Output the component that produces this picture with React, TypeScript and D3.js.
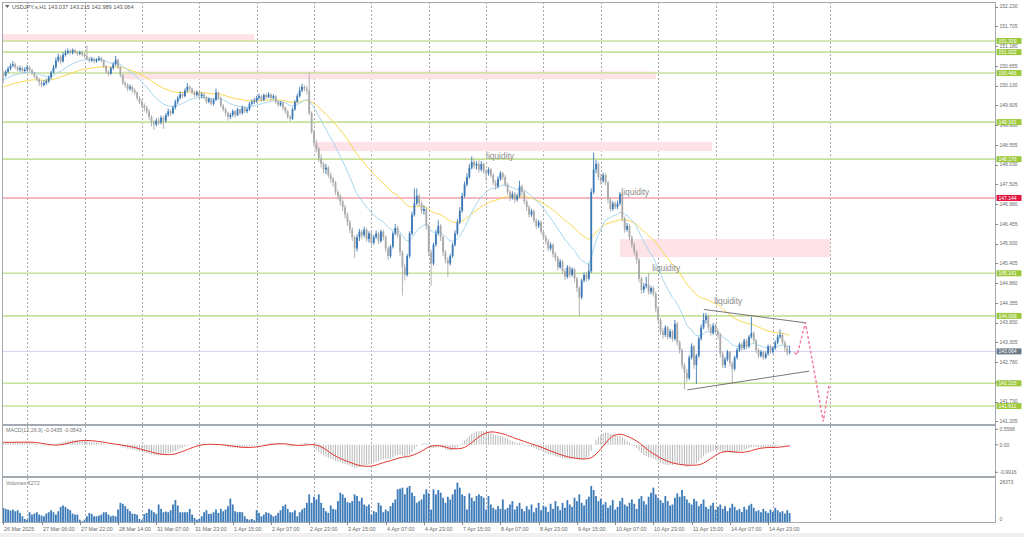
import React from 'react';
import * as d3 from 'd3';

// ---------- DATA ----------
const firstOpen = 150.45;
const closes = [
150.40,150.50,150.58,150.66,150.70,150.62,150.55,150.60,150.52,150.56,
150.62,150.55,150.48,150.38,150.30,150.22,150.15,150.20,150.25,150.35,
150.48,150.62,150.80,150.90,150.78,150.95,151.00,151.05,151.00,151.08,
151.02,150.98,151.02,150.96,150.92,150.85,150.80,150.85,150.78,150.82,
150.86,150.80,150.65,150.50,150.45,150.60,150.70,150.82,150.62,150.40,
150.20,150.15,150.05,150.10,150.00,149.95,149.80,149.70,149.60,149.55,
149.45,149.30,149.15,149.10,149.20,149.15,149.28,149.20,149.35,149.45,
149.40,149.55,149.70,149.80,149.90,149.85,150.00,150.10,150.05,149.95,
149.88,149.95,149.85,149.90,149.82,149.70,149.78,149.65,149.75,149.95,
149.80,149.60,149.50,149.40,149.30,149.35,149.45,149.35,149.50,149.40,
149.55,149.45,149.50,149.65,149.70,149.72,149.80,149.85,149.75,149.88,
149.82,149.90,149.80,149.85,149.70,149.62,149.68,149.55,149.45,149.30,
149.25,149.50,149.70,149.85,150.00,150.10,150.05,150.00,149.40,148.90,
148.60,148.45,148.20,148.05,147.90,147.95,147.75,147.65,147.55,147.30,
147.20,147.05,146.90,146.70,146.50,146.30,146.10,145.80,146.10,146.25,
146.15,146.30,146.05,146.20,145.95,146.10,146.20,146.00,146.25,146.10,
145.80,145.60,145.85,146.20,146.35,146.15,145.70,145.30,145.10,145.60,
146.20,146.70,147.00,147.20,147.00,146.80,146.85,146.40,145.70,145.40,
145.90,146.20,146.40,146.10,145.70,145.50,145.40,145.60,145.90,146.20,
146.50,146.80,147.20,147.50,147.70,147.95,148.10,148.00,148.05,147.90,
148.05,147.85,147.80,147.90,147.75,147.55,147.45,147.65,147.80,147.70,
147.50,147.30,147.15,147.25,147.10,147.20,147.45,147.30,147.05,146.90,
146.70,146.80,146.55,146.40,146.50,146.25,146.10,146.00,145.80,145.90,
145.65,145.55,145.30,145.45,145.20,145.05,145.30,145.10,145.25,145.00,
144.75,144.50,144.95,145.10,145.00,145.20,147.30,147.90,148.05,147.70,
147.60,147.75,147.55,147.10,146.85,147.00,146.90,147.00,147.25,146.60,
146.30,146.40,146.10,145.90,145.70,145.50,145.00,144.70,144.80,144.85,
144.65,144.75,144.60,144.20,143.90,143.60,143.50,143.70,143.45,143.60,
143.40,143.80,143.30,143.10,142.70,142.50,142.35,142.90,143.20,142.70,
142.95,143.40,143.70,143.90,144.00,143.70,143.55,143.75,143.60,143.50,
143.00,142.70,142.85,143.05,142.75,142.60,142.90,143.10,143.25,143.15,
143.35,143.20,143.45,143.55,143.35,143.10,142.95,143.05,142.90,143.00,
143.20,143.05,143.15,143.30,143.45,143.50,143.30,143.15,143.037,143.064,
];
const highs = [
150.52,150.55,150.64,150.72,150.78,150.74,150.66,150.66,150.64,150.62,
150.68,150.65,150.58,150.50,150.42,150.34,150.27,150.28,150.32,150.40,
150.53,150.68,150.88,150.98,150.95,151.02,151.08,151.12,151.10,151.12,
151.10,151.06,151.06,151.06,151.00,151.20,150.90,150.90,150.88,150.86,
150.92,150.90,150.82,150.68,150.55,150.64,150.75,150.92,150.85,150.66,
150.44,150.26,150.20,150.16,150.14,150.06,149.98,149.85,149.75,149.66,
149.60,149.50,149.34,149.22,149.26,149.28,149.34,149.32,149.40,149.52,
149.50,149.60,149.76,149.86,149.98,149.96,150.06,150.20,150.14,150.08,
150.00,150.00,149.98,149.95,149.94,149.86,149.82,149.80,149.80,150.05,
149.98,149.84,149.64,149.55,149.44,149.40,149.50,149.48,149.54,149.52,
149.60,149.58,149.55,149.70,149.76,149.80,149.86,149.92,149.88,149.92,
149.92,149.96,149.92,149.90,149.88,149.74,149.72,149.70,149.58,149.48,
149.34,149.55,149.75,149.92,150.10,150.18,150.14,150.12,150.47,149.45,
148.95,148.70,148.50,148.30,148.10,148.05,148.00,147.82,147.70,147.60,
147.36,147.26,147.10,146.96,146.76,146.56,146.36,146.15,146.18,146.32,
146.30,146.38,146.35,146.26,146.25,146.16,146.28,146.25,146.30,146.30,
146.15,145.86,145.90,146.26,146.45,146.40,146.20,145.75,145.40,145.66,
146.26,146.78,147.40,147.40,147.25,147.05,146.95,146.90,146.45,145.78,
145.96,146.30,146.55,146.45,146.15,145.76,145.56,145.66,145.96,146.28,
146.58,146.90,147.28,147.58,147.80,148.05,148.25,148.18,148.12,148.15,
148.12,148.08,147.92,147.96,147.94,147.80,147.62,147.72,147.86,147.84,
147.76,147.55,147.36,147.32,147.30,147.26,147.60,147.50,147.35,147.10,
146.95,146.86,146.84,146.60,146.56,146.54,146.30,146.16,146.05,145.96,
145.94,145.72,145.60,145.52,145.50,145.26,145.36,145.34,145.30,145.28,
145.05,144.80,145.00,145.16,145.18,145.40,147.40,148.35,148.15,148.10,
147.78,147.82,147.80,147.60,147.15,147.06,147.05,147.08,147.30,147.28,
146.65,146.48,146.44,146.15,145.95,145.75,145.55,145.05,144.88,145.05,
145.15,144.80,144.80,144.65,144.25,143.95,143.68,143.76,143.74,143.66,
143.64,143.90,143.85,143.36,143.15,142.76,142.60,142.96,143.28,143.24,
143.00,143.46,143.78,144.08,144.08,144.04,143.78,143.82,143.80,143.68,
143.55,143.05,142.92,143.10,143.08,142.80,142.95,143.16,143.30,143.30,
143.40,143.40,143.50,143.98,143.60,143.40,143.15,143.10,143.08,143.06,
143.25,143.24,143.20,143.36,143.52,143.65,143.55,143.35,143.22,143.215,
];
const lows = [
150.20,150.36,150.46,150.54,150.62,150.57,150.50,150.50,150.46,150.48,
150.52,150.50,150.42,150.32,150.25,150.12,150.08,150.10,150.15,150.20,
150.30,150.45,150.58,150.75,150.70,150.74,150.90,150.96,150.95,150.96,
150.98,150.92,150.94,150.90,150.86,150.80,150.74,150.76,150.72,150.74,
150.78,150.75,150.60,150.44,150.38,150.42,150.55,150.66,150.58,150.35,
150.15,150.08,149.98,150.00,149.94,149.88,149.74,149.64,149.52,149.45,
149.38,149.22,149.05,148.95,149.04,149.08,149.10,148.98,149.15,149.30,
149.32,149.36,149.50,149.64,149.76,149.80,149.82,149.95,149.98,149.90,
149.82,149.84,149.80,149.80,149.76,149.64,149.66,149.60,149.60,149.72,
149.74,149.55,149.44,149.32,149.20,149.24,149.30,149.28,149.32,149.34,
149.36,149.40,149.40,149.46,149.60,149.64,149.68,149.76,149.70,149.72,
149.78,149.80,149.74,149.76,149.64,149.56,149.58,149.48,149.38,149.25,
149.18,149.22,149.46,149.66,149.82,149.96,149.98,149.90,149.35,148.85,
148.50,148.35,148.10,147.95,147.80,147.78,147.68,147.55,147.45,147.22,
147.10,146.95,146.80,146.60,146.40,146.20,146.00,145.55,145.72,146.00,
146.05,146.10,145.98,145.96,145.88,145.90,146.05,145.92,145.95,146.02,
145.72,145.50,145.55,145.80,146.15,146.08,145.60,144.55,144.95,145.05,
145.55,146.15,146.65,146.95,146.92,146.72,146.70,146.30,145.60,144.80,
145.35,145.85,146.15,146.00,145.60,145.40,145.05,145.35,145.55,145.85,
146.15,146.45,146.75,147.15,147.45,147.65,147.90,147.92,147.90,147.82,
147.85,147.78,147.60,147.74,147.68,147.48,147.36,147.40,147.60,147.62,
147.44,147.22,147.06,147.10,147.02,147.05,147.15,147.22,146.98,146.80,
146.62,146.64,146.48,146.32,146.34,146.18,146.02,145.90,145.72,145.74,
145.56,145.46,145.22,145.26,145.12,144.96,145.00,145.02,145.05,144.90,
144.65,144.00,144.45,144.90,144.92,144.95,145.15,147.25,147.80,147.62,
147.50,147.55,147.48,147.00,146.78,146.80,146.84,146.85,146.95,146.52,
146.22,146.25,146.02,145.82,145.62,145.40,144.90,144.60,144.62,144.74,
144.58,144.58,144.52,144.10,143.82,143.50,143.40,143.45,143.38,143.40,
143.32,143.35,143.22,143.00,142.60,142.05,142.25,142.30,142.85,142.60,
142.20,142.90,143.35,143.65,143.80,143.62,143.48,143.50,143.52,143.40,
142.90,142.62,142.62,142.80,142.66,142.22,142.55,142.85,143.05,143.08,
143.10,143.12,143.15,143.40,143.28,143.02,142.88,142.90,142.84,142.86,
142.95,143.00,143.00,143.10,143.25,143.40,143.25,143.05,142.95,142.989,
];
const volumes = [
9910,9200,8730,8020,8730,7550,8260,6370,4010,2120,
1650,6840,5190,5900,6840,5190,4480,4010,5900,6840,
8260,6840,5190,7550,10620,11560,10620,9200,8260,5900,
5190,5190,1650,470,1650,4010,6370,5660,4010,4010,
4480,5190,6840,6840,5190,4010,4480,4010,8730,13450,
12740,11090,9200,7550,5900,5660,5190,2120,1180,5660,
6370,9200,8260,6840,5660,12270,9200,6840,7320,6840,
8260,12270,15340,11560,6840,6840,6840,6840,9200,5190,
2830,1650,2120,4010,6840,8260,5660,5900,6840,8730,
6370,9200,7550,8730,11090,16280,12270,7550,6840,7080,
6840,4010,2120,1650,2120,1180,8260,6370,4010,5190,
6840,6370,5190,4010,4480,6370,8260,11090,12270,9200,
6840,6840,8260,4010,6840,8730,9910,13450,19350,13450,
17700,15810,19350,13450,9910,7550,6370,11560,9200,8730,
14630,20530,19350,16990,13920,13450,14630,19350,18170,14630,
16990,12270,11090,12270,5190,7550,6840,13450,11560,6840,
8730,7550,11090,13450,15810,22890,23360,24070,19350,24070,
25250,20530,18170,13450,14630,15810,19350,22890,20060,8730,
22890,19350,22420,20530,16990,13450,17700,15810,19350,22890,
27610,24070,19350,18170,8730,20060,16990,14630,18170,19350,
18170,16990,8730,18170,12270,9910,8730,11090,9200,15810,
8730,9910,12270,14630,8730,11090,13450,
9200,7550,11090,8730,12270,6840,9910,13450,8260,11560,
10620,7080,12740,9200,14630,11090,8260,13450,9910,15340,
12270,10620,16990,14630,
19350,13450,11560,15810,17700,25250,22420,18170,14630,16280,
12270,13920,9910,11560,15340,8730,10620,14630,16990,12270,
11090,13450,15810,12740,9200,16280,18170,14630,12270,17700,
20530,24070,19350,16990,15340,
13450,18170,14630,11560,12270,16990,20060,17700,22420,18170,
15810,13450,12270,16280,14630,11090,12740,15810,10620,9200,
11560,13450,8730,10620,12270,
9200,11090,7550,9910,12740,10620,8260,9200,7080,10620,
8730,11560,12740,9910,7550,8260,6840,9200,7550,6370,
8730,7080,9910,8260,6840,7550,5900,8260,6272,
];

const timeLabels = ['26 Mar 2025','27 Mar 06:00','27 Mar 22:00','28 Mar 14:00','31 Mar 07:00','31 Mar 23:00','1 Apr 15:00','2 Apr 07:00','2 Apr 23:00','3 Apr 15:00','4 Apr 07:00','4 Apr 23:00','7 Apr 15:00','8 Apr 07:00','8 Apr 23:00','9 Apr 15:00','10 Apr 07:00','10 Apr 23:00','11 Apr 15:00','14 Apr 07:00','14 Apr 23:00'];
const timeLabelEvery = 16;
const gridStartBar = 10;
const gridEvery = 24;
const gridCount = 15;

const priceTicks = [152.230,151.705,151.180,150.655,150.130,149.605,149.080,148.555,148.030,147.505,146.980,146.455,145.930,145.405,144.880,144.355,143.830,143.305,142.780,142.255,141.730,141.205];
const levelValues = [151.319,151.022,150.466,149.161,148.176,147.144,145.141,144.008,142.215,141.611];
const levelKinds = ['g','g','g','g','g','r','g','g','g','g'];
const lastPrice = 143.064;

const macdTicks = [0.5568, 0.00, -0.9916];
const macdTickLabels = ['0.5568','0.00','-0.9916'];
const volMax = 28373;

// zones: [barStart, barEnd, priceTop, priceBottom]
const zoneBars0 = [-1, 49.5, 130, 258];
const zoneBars1 = [105, 273, 296.5, 346];
const zoneTop = [151.50, 150.51, 148.63, 146.05];
const zoneBottom = [151.30, 150.30, 148.39, 145.57];

const liqBars = [202, 258.6, 271.5, 297.5];
const liqPrices = [148.25, 147.30, 145.28, 144.40];

const triUpperBars = [293.1, 336];
const triUpperPrices = [144.18, 143.82];
const triLowerBars = [286.2, 337.2];
const triLowerPrices = [142.04, 142.54];

const arrowBars = [331, 332.2, 335.6, 343.1, 345.6];
const arrowPrices = [143.03, 142.98, 143.83, 141.20, 142.20];

const ema20Seed = 150.28;
const ema50Seed = 150.09;
const ema12Seed = 150.40;
const ema26Seed = 150.32;
const signalSeed = 0.09;

// ---------- LAYOUT ----------
const W = 1024, H = 537;
const L = 2, R = 995;
const mainTop = 2, mainBot = 424;
const macdTop = 426, macdBot = 476;
const volTop = 478, volBot = 522;

const BULL = '#3a78b6';
const BEAR = '#a9a9a9';
const FONT = '"Liberation Sans", Arial, sans-serif';

export default function App() {
  const n = closes.length;
  const opens = closes.map((c, i) => (i === 0 ? firstOpen : closes[i - 1]));
  const x = d3.scaleLinear().domain([0, 1]).range([3.3, 3.3 + 2.39]);
  const y = d3.scaleLinear().domain([141.205, 152.23]).range([421.3, 6.7]);
  const ym = d3.scaleLinear().domain([-0.9916, 0.5568]).range([472.3, 429.3]);
  const yv = d3.scaleLinear().domain([0, volMax]).range([volBot, 481.5]);

  const ema = (p: number, seed: number) => {
    let e = seed;
    const k = 2 / (p + 1);
    return closes.map((c) => (e = e + k * (c - e)));
  };
  const e20 = ema(20, ema20Seed);
  const e50 = ema(50, ema50Seed);
  const e12 = ema(12, ema12Seed);
  const e26 = ema(26, ema26Seed);
  const macd = e12.map((v, i) => v - e26[i]);
  const signal = macd.map((_, i) => {
    let s = 0;
    for (let j = i - 8; j <= i; j++) s += j >= 0 ? macd[j] : signalSeed;
    return s / 9;
  });

  const line = d3.line<number>().x((_, i) => x(i)).y((d) => y(d));
  const lineM = d3.line<number>().x((_, i) => x(i)).y((d) => ym(d));
  const arrowPath = d3.line<number>().x((b) => x(b)).y((_, i) => y(arrowPrices[i]))(arrowBars) || '';

  const gridX = d3.range(gridCount).map((k) => x(gridStartBar + gridEvery * k));

  return (
    <svg width={W} height={H} style={{ position: 'absolute', left: 0, top: 0, background: '#fff' }} fontFamily={FONT}>
      <defs>
        <clipPath id="cMain"><rect x={L} y={mainTop} width={R - L} height={mainBot - mainTop} /></clipPath>
        <clipPath id="cMacd"><rect x={L} y={macdTop} width={R - L} height={macdBot - macdTop} /></clipPath>
        <clipPath id="cVol"><rect x={L} y={volTop} width={R - L} height={volBot - volTop} /></clipPath>
      </defs>
      <rect x={0} y={0} width={W} height={H} fill="#fff" />
      <rect x={0} y={533} width={W} height={4} fill="#f0f0f0" />

      {/* vertical grid */}
      {gridX.map((gx, i) => (
        <g key={'g' + i}>
          <line x1={Math.round(gx) + 0.5} x2={Math.round(gx) + 0.5} y1={mainTop} y2={mainBot} stroke="#a8a8a8" strokeDasharray="2,2" />
          <line x1={Math.round(gx) + 0.5} x2={Math.round(gx) + 0.5} y1={macdTop} y2={macdBot} stroke="#a8a8a8" strokeDasharray="2,2" />
          <line x1={Math.round(gx) + 0.5} x2={Math.round(gx) + 0.5} y1={volTop} y2={volBot} stroke="#a8a8a8" strokeDasharray="2,2" />
        </g>
      ))}

      <g clipPath="url(#cMain)">
        {/* zones */}
        {zoneTop.map((t, i) => (
          <rect key={'z' + i} x={x(zoneBars0[i])} width={x(zoneBars1[i]) - x(zoneBars0[i])} y={y(t)} height={y(zoneBottom[i]) - y(t)} fill="#fde2e8" />
        ))}
        {/* levels */}
        {levelValues.map((v, i) => (
          <line key={'l' + i} x1={L} x2={R} y1={y(v)} y2={y(v)} stroke={levelKinds[i] === 'r' ? '#f2a2ad' : '#c8e19a'} strokeWidth={1.6} />
        ))}
        <line x1={L} x2={R} y1={Math.round(y(lastPrice)) + 0.5} y2={Math.round(y(lastPrice)) + 0.5} stroke="#d6d6f2" strokeWidth={1} />

        {/* moving averages */}
        <path d={line(e50) || ''} fill="none" stroke="#f9d850" strokeWidth={1} />
        <path d={line(e20) || ''} fill="none" stroke="#a6d6ef" strokeWidth={1} />

        {/* candles */}
        {closes.map((c, i) => {
          const o = opens[i];
          const col = c >= o ? BULL : BEAR;
          const cx = x(i);
          const top = y(Math.max(o, c));
          const h = Math.max(0.8, Math.abs(y(o) - y(c)));
          return (
            <g key={'c' + i}>
              <line x1={cx} x2={cx} y1={y(highs[i])} y2={y(lows[i])} stroke={col} strokeWidth={0.9} />
              <rect x={cx - 0.9} width={1.8} y={top} height={h} fill={col} />
            </g>
          );
        })}

        {/* triangle */}
        <line x1={x(triUpperBars[0])} y1={y(triUpperPrices[0])} x2={x(triUpperBars[1])} y2={y(triUpperPrices[1])} stroke="#555" strokeWidth={0.8} />
        <line x1={x(triLowerBars[0])} y1={y(triLowerPrices[0])} x2={x(triLowerBars[1])} y2={y(triLowerPrices[1])} stroke="#555" strokeWidth={0.8} />
        <path d={arrowPath} fill="none" stroke="#f27aa0" strokeWidth={1.4} strokeDasharray="3,2" />

        {liqBars.map((b, i) => (
          <text key={'q' + i} x={x(b)} y={y(liqPrices[i])} dy="0.35em" fontSize={8.4} fill="#8c8c8c">liquidity</text>
        ))}
      </g>

      {/* MACD */}
      <g clipPath="url(#cMacd)">
        {macd.map((m, i) => (
          <line key={'m' + i} x1={x(i)} x2={x(i)} y1={ym(0)} y2={ym(m)} stroke="#b8b8b8" strokeWidth={1} />
        ))}
        <path d={lineM(signal) || ''} fill="none" stroke="#e3342f" strokeWidth={1} />
      </g>

      {/* Volumes */}
      <g clipPath="url(#cVol)">
        {volumes.map((v, i) => (
          <rect key={'v' + i} x={x(i) - 0.9} width={1.8} y={yv(v)} height={volBot - yv(v)} fill="#3d7bb8" />
        ))}
      </g>

      {/* frame */}
      <g stroke="#a3a9b0" fill="none">
        <line x1={L + 0.5} x2={L + 0.5} y1={mainTop} y2={volBot} />
        <line x1={R + 0.5} x2={R + 0.5} y1={mainTop} y2={volBot} />
        <line x1={L} x2={R} y1={mainTop + 0.5} y2={mainTop + 0.5} />
        <line x1={L} x2={R + 1} y1={mainBot + 0.5} y2={mainBot + 0.5} />
        <line x1={L} x2={R + 1} y1={mainBot + 1.5} y2={mainBot + 1.5} />
        <line x1={L} x2={R + 1} y1={macdBot + 0.5} y2={macdBot + 0.5} />
        <line x1={L} x2={R + 1} y1={macdBot + 1.5} y2={macdBot + 1.5} />
        <line x1={L} x2={R + 1} y1={volBot + 0.5} y2={volBot + 0.5} />
      </g>

      {/* price axis */}
      {priceTicks.map((p, i) => (
        <g key={'p' + i}>
          <line x1={R} x2={R + 3} y1={Math.round(y(p)) + 0.5} y2={Math.round(y(p)) + 0.5} stroke="#888" />
          <text x={999.5} y={y(p)} dy="0.35em" fontSize={5} fill="#6a6a6a">{p.toFixed(3)}</text>
        </g>
      ))}
      {levelValues.map((v, i) => (
        <g key={'lb' + i}>
          <rect x={996.5} y={y(v) - 3} width={25} height={6} fill={levelKinds[i] === 'r' ? '#e2163f' : '#9cc83c'} />
          <text x={998.5} y={y(v)} dy="0.35em" fontSize={5} fill="#fff">{v.toFixed(3)}</text>
        </g>
      ))}
      <rect x={996.5} y={y(lastPrice) - 3} width={25} height={6} fill="#6c7886" />
      <text x={998.5} y={y(lastPrice)} dy="0.35em" fontSize={5} fill="#fff">{lastPrice.toFixed(3)}</text>

      {/* macd axis */}
      {macdTicks.map((m, i) => (
        <g key={'ma' + i}>
          <line x1={R} x2={R + 3} y1={ym(m)} y2={ym(m)} stroke="#888" />
          <text x={999.5} y={ym(m)} dy="0.35em" fontSize={5} fill="#6a6a6a">{macdTickLabels[i]}</text>
        </g>
      ))}
      <text x={999.5} y={482.3} dy="0.35em" fontSize={5} fill="#6a6a6a">{volMax}</text>
      <text x={999.5} y={519.3} dy="0.35em" fontSize={5} fill="#6a6a6a">0</text>

      {/* time axis */}
      {timeLabels.map((t, i) => {
        const tx = Math.round(x(i * timeLabelEvery)) + 0.5;
        return (
          <g key={'t' + i}>
            <line x1={tx} x2={tx} y1={volBot} y2={volBot + 3} stroke="#888" />
            <text x={tx + 0.5} y={529} dy="0.35em" fontSize={5.4} fill="#6a6a6a">{t}</text>
          </g>
        );
      })}

      {/* titles */}
      <path d="M5,5 L9.5,5 L7.25,8 Z" fill="#666" />
      <text x={12} y={6.8} dy="0.35em" fontSize={5.6} fill="#555">USDJPY.s,H1  143.037 143.215 142.989 143.064</text>
      <text x={6} y={430.3} dy="0.35em" fontSize={5.3} fill="#777">MACD(12,26,9) -0.0435 -0.0543</text>
      <text x={6} y={483.3} dy="0.35em" fontSize={5.3} fill="#777">Volumes 6272</text>
    </svg>
  );
}
